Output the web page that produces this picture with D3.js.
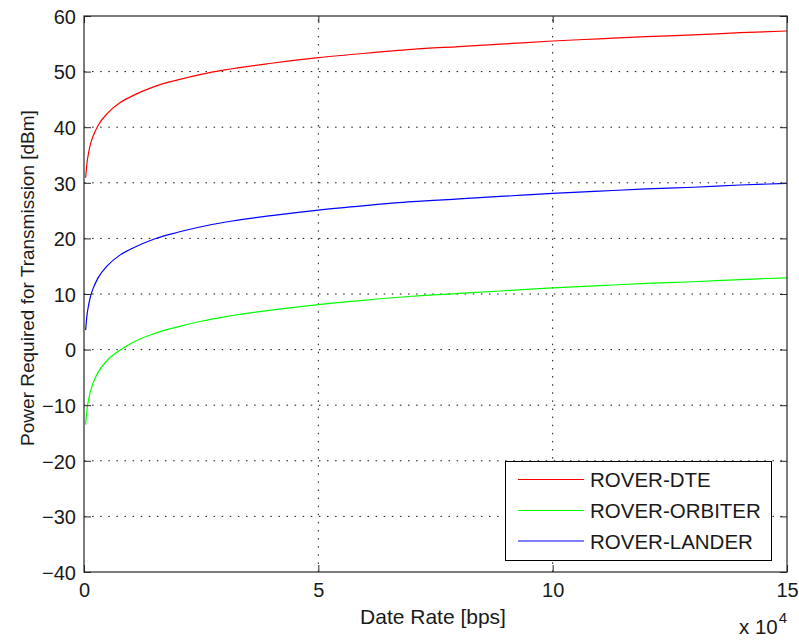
<!DOCTYPE html>
<html>
<head>
<meta charset="utf-8">
<script src="https://cdn.jsdelivr.net/npm/d3@7"></script>
<style>
  html, body { margin: 0; padding: 0; background: #fff; }
  svg { display: block; }
  text { font-family: "Liberation Sans", Arial, sans-serif; fill: #1a1a1a; }
</style>
</head>
<body>
<svg id="chart" width="799" height="643"></svg>
<script>
// ---- data ----
const dataRate = [350, 600, 1000, 1500, 2000, 3000, 5000, 7500, 10000, 15000, 20000, 25000, 30000,
  40000, 50000, 60000, 70000, 80000, 90000, 100000, 110000, 120000, 130000, 140000, 150000];
const roverDTE = [30.9, 33.3, 35.5, 37.3, 38.5, 40.3, 42.5, 44.3, 45.5, 47.3, 48.5, 49.5, 50.3,
  51.5, 52.5, 53.3, 54.0, 54.5, 55.0, 55.5, 55.9, 56.3, 56.6, 57.0, 57.3];
const roverOrbiter = [-13.5, -11.1, -8.9, -7.1, -5.9, -4.1, -1.9, -0.2, 1.1, 2.9, 4.1, 5.1, 5.9,
  7.1, 8.1, 8.9, 9.6, 10.1, 10.6, 11.1, 11.5, 11.9, 12.2, 12.6, 12.9];
const roverLander = [3.5, 5.9, 8.1, 9.9, 11.1, 12.9, 15.1, 16.9, 18.1, 19.9, 21.1, 22.1, 22.9,
  24.1, 25.1, 25.9, 26.6, 27.1, 27.6, 28.1, 28.5, 28.9, 29.2, 29.6, 29.9];
const seriesNames = ["ROVER-DTE", "ROVER-ORBITER", "ROVER-LANDER"];
const seriesColors = ["#ff0000", "#00ff00", "#0000ff"];
const xTickValues = [0, 50000, 100000, 150000];
const xTickLabels = ["0", "5", "10", "15"];
const yTickValues = [-40, -30, -20, -10, 0, 10, 20, 30, 40, 50, 60];
const xLabel = "Date Rate [bps]";
const yLabel = "Power Required for Transmission [dBm]";
const xExponent = "4";

// ---- layout ----
const pL = 84, pR = 787, pT = 16, pB = 572;
const svg = d3.select("#chart");
const x = d3.scaleLinear().domain([0, 150000]).range([pL, pR]);
const y = d3.scaleLinear().domain([-40, 60]).range([pB, pT]);
const series = [roverDTE, roverOrbiter, roverLander];

svg.append("rect").attr("width", 799).attr("height", 643).attr("fill", "#fff");

// grid
const grid = svg.append("g").attr("stroke", "#111").attr("stroke-width", 1)
  .attr("stroke-dasharray", "1.5,6.6").attr("fill", "none");
xTickValues.filter(v => v > 0 && v < 150000).forEach(v => {
  grid.append("line").attr("x1", x(v)).attr("x2", x(v)).attr("y1", pB).attr("y2", pT);
});
yTickValues.filter(v => v > -40 && v < 60).forEach(v => {
  grid.append("line").attr("x1", pL).attr("x2", pR).attr("y1", y(v)).attr("y2", y(v));
});

// clip
svg.append("clipPath").attr("id", "clip").append("rect")
  .attr("x", pL).attr("y", pT).attr("width", pR - pL).attr("height", pB - pT);

// lines
const line = d3.line().x((d, i) => x(dataRate[i])).y(d => y(d)).curve(d3.curveMonotoneX);
series.forEach((s, i) => {
  svg.append("path").datum(s).attr("clip-path", "url(#clip)")
    .attr("fill", "none").attr("stroke", seriesColors[i]).attr("stroke-width", 1.2)
    .attr("d", line);
});

// axes
const tickLen = 7;
const fs = 19;
const axB = svg.append("g").attr("transform", `translate(0,${pB})`)
  .call(d3.axisBottom(x).tickValues(xTickValues).tickFormat((d, i) => xTickLabels[i])
    .tickSizeInner(-tickLen).tickSizeOuter(0).tickPadding(11));
const axT = svg.append("g").attr("transform", `translate(0,${pT})`)
  .call(d3.axisTop(x).tickValues(xTickValues).tickFormat("")
    .tickSizeInner(-tickLen).tickSizeOuter(0));
const axL = svg.append("g").attr("transform", `translate(${pL},0)`)
  .call(d3.axisLeft(y).tickValues(yTickValues).tickFormat(d3.format("d"))
    .tickSizeInner(-tickLen).tickSizeOuter(0).tickPadding(8));
const axR = svg.append("g").attr("transform", `translate(${pR},0)`)
  .call(d3.axisRight(y).tickValues(yTickValues).tickFormat("")
    .tickSizeInner(-tickLen).tickSizeOuter(0));
[axB, axT, axL, axR].forEach(a => {
  a.select(".domain").remove();
  a.selectAll(".tick line").attr("stroke", "#262626").attr("stroke-width", 1);
  a.selectAll("text").attr("font-size", 20).attr("font-family", "Liberation Sans, Arial, sans-serif")
    .attr("fill", "#1a1a1a");
});
axL.selectAll("text").attr("dy", "0.36em");

// box
svg.append("rect").attr("x", pL).attr("y", pT).attr("width", pR - pL).attr("height", pB - pT)
  .attr("fill", "none").attr("stroke", "#262626").attr("stroke-width", 1.2);

// labels
svg.append("text").attr("x", 433).attr("y", 624).attr("text-anchor", "middle")
  .attr("font-size", 21).text(xLabel);
svg.append("text").attr("transform", `translate(34,278) rotate(-90)`)
  .attr("text-anchor", "middle").attr("font-size", fs).text(yLabel);
const ex = svg.append("text").attr("x", 739).attr("y", 634).attr("font-size", 20.5);
ex.append("tspan").text("x 10");
ex.append("tspan").attr("font-size", 15).attr("dx", 1).attr("dy", -11).text(xExponent);

// legend
const lg = svg.append("g");
lg.append("rect").attr("x", 505.5).attr("y", 461.5).attr("width", 266).attr("height", 99)
  .attr("fill", "#fff").attr("stroke", "#000").attr("stroke-width", 1);
const rowY = [479.5, 510.5, 541];
seriesNames.forEach((n, i) => {
  lg.append("line").attr("x1", 518).attr("x2", 584).attr("y1", rowY[i]).attr("y2", rowY[i])
    .attr("stroke", seriesColors[i]).attr("stroke-width", 1.2);
  lg.append("text").attr("x", 590).attr("y", rowY[i] + 7.5).attr("font-size", 20.5).text(n);
});
</script>
</body>
</html>
